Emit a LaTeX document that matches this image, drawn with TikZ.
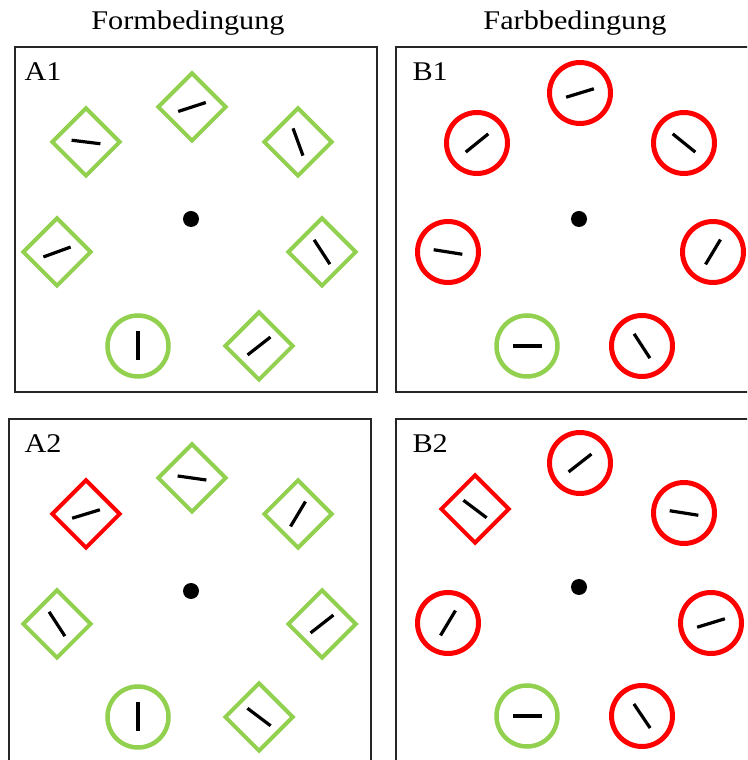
\documentclass[tikz,border=0pt]{standalone}
\usepackage{fontspec}
\setmainfont{Liberation Serif}[FakeStretch=1.12]
\usepackage{tikz}
\usetikzlibrary{shapes.geometric}
\definecolor{lgreen}{RGB}{146,208,80}
\definecolor{lred}{RGB}{255,0,0}
\tikzset{>=latex}
\tikzset{
  panel/.style={draw=black!85, line width=2pt},
  dia/.style={diamond, draw, aspect=1, inner sep=0pt, minimum size=69pt, line width=4pt},
  circ/.style={circle, draw, inner sep=0pt, minimum size=61pt, line width=4.5pt},
  fix/.style={circle, fill=black, inner sep=0pt, minimum size=16pt},
  bar/.style={line width=3.2pt, black},
  lab/.style={anchor=base west, font=\fontsize{27}{30}\selectfont},
  head/.style={anchor=base, font=\fontsize{27}{30}\selectfont}
}
\newcommand{\tilt}[2]{\draw[bar] (#1.center) ++(#2:14.5) -- ++(#2+180:29);}

\begin{document}
\begin{tikzpicture}[x=1pt,y=1pt]
\useasboundingbox (0,0) rectangle (747,760);
\clip (0,0) rectangle (747,760);

\node[head] (hForm) at (188,730) {Formbedingung};
\node[head] (hFarb) at (575,730) {Farbbedingung};

\draw[panel] (15,368) rectangle (377,713);
\draw[panel] (396,368) rectangle (756,713);
\draw[panel] (9,-10) rectangle (371,341);
\draw[panel] (396,-10) rectangle (756,341);

\node[lab] (lA1) at (21,679) {A1};
\node[lab] (lB1) at (409,679) {B1};
\node[lab] (lA2) at (21,307) {A2};
\node[lab] (lB2) at (409,307) {B2};

% A1
\node[fix] (fA1) at (191,541) {};
\node[dia, lgreen] (a1t) at (192,653) {};
\node[dia, lgreen] (a1ul) at (86,618) {};
\node[dia, lgreen] (a1ur) at (298,618) {};
\node[dia, lgreen] (a1l) at (57,508) {};
\node[dia, lgreen] (a1r) at (322,508) {};
\node[circ, lgreen] (a1bl) at (138,414) {};
\node[dia, lgreen] (a1br) at (259,414) {};
\tilt{a1t}{18} \tilt{a1ul}{-7} \tilt{a1ur}{-70} \tilt{a1l}{20}
\tilt{a1r}{-57} \tilt{a1bl}{90} \tilt{a1br}{38}

% B1
\node[fix] (fB1) at (579,541) {};
\node[circ, lred, line width=5pt] (b1t) at (580,667) {};
\node[circ, lred, line width=5pt] (b1ul) at (477,617) {};
\node[circ, lred, line width=5pt] (b1ur) at (684,617) {};
\node[circ, lred, line width=5pt] (b1l) at (448,508) {};
\node[circ, lred, line width=5pt] (b1r) at (713,508) {};
\node[circ, lgreen] (b1bl) at (527,414) {};
\node[circ, lred, line width=5pt] (b1br) at (642,414) {};
\tilt{b1t}{17} \tilt{b1ul}{39} \tilt{b1ur}{-39} \tilt{b1l}{-9}
\tilt{b1r}{59} \tilt{b1bl}{0} \tilt{b1br}{-57}

% A2
\node[fix] (fA2) at (191,169) {};
\node[dia, lgreen] (a2t) at (192,282) {};
\node[dia, lred] (a2ul) at (86,246) {};
\node[dia, lgreen] (a2ur) at (298,246) {};
\node[dia, lgreen] (a2l) at (57,136) {};
\node[dia, lgreen] (a2r) at (322,136) {};
\node[circ, lgreen] (a2bl) at (138,43) {};
\node[dia, lgreen] (a2br) at (259,43) {};
\tilt{a2t}{-8} \tilt{a2ul}{17} \tilt{a2ur}{59} \tilt{a2l}{-57}
\tilt{a2r}{38} \tilt{a2bl}{90} \tilt{a2br}{-37}

% B2
\node[fix] (fB2) at (579,173) {};
\node[circ, lred, line width=5pt] (b2t) at (580,297) {};
\node[dia, lred] (b2ul) at (475,251) {};
\node[circ, lred, line width=5pt] (b2ur) at (684,247) {};
\node[circ, lred, line width=5pt] (b2l) at (448,137) {};
\node[circ, lred, line width=5pt] (b2r) at (711,137) {};
\node[circ, lgreen] (b2bl) at (527,44) {};
\node[circ, lred, line width=5pt] (b2br) at (642,44) {};
\tilt{b2t}{38} \tilt{b2ul}{-37} \tilt{b2ur}{-9} \tilt{b2l}{59}
\tilt{b2r}{17} \tilt{b2bl}{0} \tilt{b2br}{-56}

\end{tikzpicture}
\end{document}
